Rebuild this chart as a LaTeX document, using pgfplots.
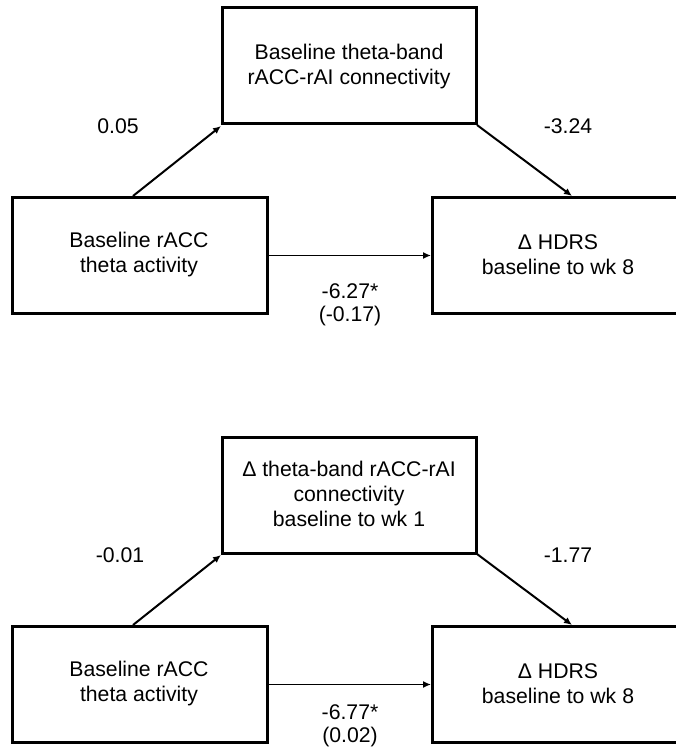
\documentclass[border=0pt]{standalone}
\usepackage{pgfplots}
\pgfplotsset{compat=1.18}
\usepackage{fontspec}
\setmainfont{Liberation Sans}
\usetikzlibrary{arrows.meta}
\tikzset{lbl/.style={font=\fontsize{21.3}{25.5}\selectfont, align=center, inner sep=0pt}}
\begin{document}
\begin{tikzpicture}
\begin{axis}[
  scale only axis, width=676bp, height=756bp,
  xmin=0, xmax=676, ymin=0, ymax=756, y dir=reverse,
  hide axis, clip=true,
]
% ---------- top diagram ----------
\addplot[black, line width=3bp, mark=none] coordinates {(222,8) (476,8) (476,124) (222,124)} -- cycle;
\addplot[black, line width=3bp, mark=none] coordinates {(12,197) (267,197) (267,313) (12,313)} -- cycle;
\addplot[black, line width=3bp, mark=none] coordinates {(432,197) (690,197) (690,313) (432,313)} -- cycle;
\addplot[black, line width=2bp, mark=none, -{Latex[length=8bp,width=7bp]}] coordinates {(133,196) (221,126)};
\addplot[black, line width=2bp, mark=none, -{Latex[length=8bp,width=7bp]}] coordinates {(477,125) (572,196)};
\addplot[black, line width=1.5bp, mark=none, -{Latex[length=8bp,width=7bp]}] coordinates {(268,255.5) (431,255.5)};
\node[lbl] at (axis cs:349,66.5) {Baseline theta-band\\rACC-rAI connectivity};
\node[lbl] at (axis cs:118,126) {0.05};
\node[lbl] at (axis cs:568,126) {-3.24};
\node[lbl] at (axis cs:139,254.5) {Baseline rACC\\theta activity};
\node[lbl] at (axis cs:558,254.5) {Δ HDRS\\baseline to wk 8};
\node[lbl] at (axis cs:350,291) {-6.27*};
\node[lbl] at (axis cs:350,316) {(-0.17)};
% ---------- bottom diagram ----------
\addplot[black, line width=3bp, mark=none] coordinates {(222,437) (476,437) (476,553) (222,553)} -- cycle;
\addplot[black, line width=3bp, mark=none] coordinates {(12,626) (267,626) (267,742) (12,742)} -- cycle;
\addplot[black, line width=3bp, mark=none] coordinates {(432,626) (690,626) (690,742) (432,742)} -- cycle;
\addplot[black, line width=2bp, mark=none, -{Latex[length=8bp,width=7bp]}] coordinates {(133,625) (221,555)};
\addplot[black, line width=2bp, mark=none, -{Latex[length=8bp,width=7bp]}] coordinates {(477,554) (572,625)};
\addplot[black, line width=1.5bp, mark=none, -{Latex[length=8bp,width=7bp]}] coordinates {(268,684.5) (431,684.5)};
\node[lbl] at (axis cs:349,494) {Δ theta-band rACC-rAI\\connectivity\\baseline to wk 1};
\node[lbl] at (axis cs:120,555) {-0.01};
\node[lbl] at (axis cs:568,555) {-1.77};
\node[lbl] at (axis cs:139,683.5) {Baseline rACC\\theta activity};
\node[lbl] at (axis cs:558,683.5) {Δ HDRS\\baseline to wk 8};
\node[lbl] at (axis cs:350,712) {-6.77*};
\node[lbl] at (axis cs:350,737) {(0.02)};
\end{axis}
\path (current axis.south west) rectangle (current axis.north east);
\end{tikzpicture}
\end{document}
